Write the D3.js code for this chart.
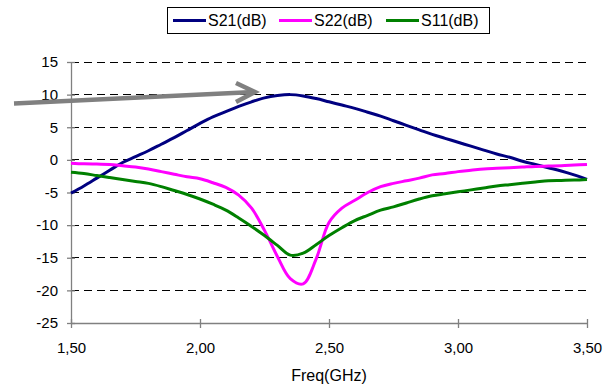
<!DOCTYPE html>
<html>
<head>
<meta charset="utf-8">
<script src="https://cdn.jsdelivr.net/npm/d3@7"></script>
<style>
  html, body { margin: 0; padding: 0; background: #fff; }
  svg { display: block; }
  text { font-family: "Liberation Sans", Arial, sans-serif; fill: #000; }
</style>
</head>
<body>
<svg id="chart" width="610" height="385"></svg>
<script>
// ---- data ----
const freq = [1.50,1.55,1.60,1.65,1.70,1.75,1.80,1.85,1.90,1.95,
              2.00,2.05,2.10,2.15,2.20,2.25,2.30,2.35,2.40,2.45,
              2.50,2.55,2.60,2.65,2.70,2.75,2.80,2.85,2.90,2.95,
              3.00,3.05,3.10,3.15,3.20,3.25,3.30,3.35,3.40,3.45,3.50];
const s21 = [-5.1,-4.0,-2.8,-1.6,-0.4,0.5,1.4,2.4,3.4,4.5,
             5.6,6.6,7.4,8.2,8.9,9.5,9.85,10.0,9.8,9.4,
             8.9,8.4,7.9,7.3,6.7,6.0,5.3,4.6,3.9,3.3,
             2.7,2.1,1.5,0.9,0.4,-0.2,-0.7,-1.2,-1.7,-2.3,-3.0];
const s22 = [-0.5,-0.6,-0.65,-0.7,-0.9,-1.1,-1.4,-1.8,-2.2,-2.6,
             -2.9,-3.5,-4.2,-5.4,-7.4,-10.8,-14.8,-18.2,-19.0,-15.2,
             -9.6,-7.4,-6.2,-5.0,-4.1,-3.6,-3.2,-2.8,-2.3,-2.1,
             -1.8,-1.6,-1.4,-1.3,-1.2,-1.1,-1.0,-0.95,-0.9,-0.8,-0.7];
const s11 = [-1.9,-2.1,-2.4,-2.7,-3.0,-3.3,-3.6,-4.1,-4.7,-5.3,
             -6.0,-6.8,-7.7,-8.9,-10.2,-11.6,-13.1,-14.6,-14.3,-13.0,
             -11.6,-10.4,-9.3,-8.5,-7.7,-7.2,-6.6,-6.0,-5.5,-5.2,
             -4.9,-4.6,-4.3,-4.0,-3.8,-3.6,-3.4,-3.2,-3.15,-3.1,-3.0];
const seriesNames = ["S21(dB)", "S22(dB)", "S11(dB)"];
const seriesColors = ["#000080", "#FF00FF", "#008000"];
const xTicks = [1.5, 2.0, 2.5, 3.0, 3.5];
const yTicks = [15, 10, 5, 0, -5, -10, -15, -20, -25];
const xTitle = "Freq(GHz)";

// ---- chart ----
const svg = d3.select("#chart");
const x = d3.scaleLinear().domain([1.5, 3.5]).range([71, 587]);
const y = d3.scaleLinear().domain([-25, 15]).range([323, 62]);

// grid
svg.append("g").selectAll("line")
  .data(yTicks.filter(v => v !== -25))
  .join("line")
  .attr("x1", x(1.5)).attr("x2", x(3.5))
  .attr("y1", d => y(d)).attr("y2", d => y(d))
  .attr("stroke", "#000").attr("stroke-width", 1)
  .attr("stroke-dasharray", "8,5")
  .attr("shape-rendering", "crispEdges");

// y axis
const yAxis = svg.append("g").attr("transform", `translate(${x(1.5)},0)`)
  .call(d3.axisLeft(y).tickValues(yTicks).tickSize(0).tickPadding(13).tickFormat(d => String(d)));
yAxis.select(".domain").attr("stroke", "#808080").attr("stroke-width", 1.3);
yAxis.selectAll(".tick line").attr("x1", -4).attr("x2", 4).attr("stroke", "#808080").attr("stroke-width", 1.3);
yAxis.selectAll("text").style("font-size", "15px").style("font-family", "'Liberation Sans', Arial, sans-serif").attr("fill", "#000");

// x axis
const fmt = d => d3.format(".2f")(d).replace(".", ",");
const xAxis = svg.append("g").attr("transform", `translate(0,${y(-25)})`)
  .call(d3.axisBottom(x).tickValues(xTicks).tickSize(0).tickPadding(19).tickFormat(fmt));
xAxis.select(".domain").attr("stroke", "#808080").attr("stroke-width", 1.3);
xAxis.selectAll(".tick line").attr("y1", -4).attr("y2", 5).attr("stroke", "#808080").attr("stroke-width", 1.3);
xAxis.selectAll("text").style("font-size", "15px").style("font-family", "'Liberation Sans', Arial, sans-serif").attr("fill", "#000");

// axis title
svg.append("text").attr("x", (x(1.5) + x(3.5)) / 2).attr("y", 381)
  .attr("text-anchor", "middle").style("font-size", "16px").text(xTitle);

// series
const allSeries = [s21, s22, s11];
const line = d3.line().x((d, i) => x(freq[i])).y(d => y(d)).curve(d3.curveCatmullRom.alpha(0.5));
allSeries.forEach((vals, k) => {
  svg.append("path").datum(vals)
    .attr("d", line)
    .attr("fill", "none")
    .attr("stroke", seriesColors[k])
    .attr("stroke-width", 3)
    .attr("stroke-linejoin", "round");
});

// annotation arrow
const arrow = svg.append("g").attr("stroke", "#808080").attr("stroke-width", 4.5).attr("fill", "none")
  .attr("stroke-linecap", "butt");
arrow.append("line").attr("x1", 14).attr("y1", 103.5).attr("x2", 254).attr("y2", 92);
arrow.append("polyline").attr("points", "236,83 255,92 236,102").attr("stroke-linejoin", "miter");

// legend
const lg = svg.append("g");
lg.append("rect").attr("x", 167.5).attr("y", 7.5).attr("width", 322).attr("height", 26)
  .attr("fill", "#fff").attr("stroke", "#000").attr("stroke-width", 1);
const legendX = [173, 279, 386];
seriesNames.forEach((name, k) => {
  lg.append("line").attr("x1", legendX[k]).attr("x2", legendX[k] + 33)
    .attr("y1", 20.5).attr("y2", 20.5)
    .attr("stroke", seriesColors[k]).attr("stroke-width", 3);
  lg.append("text").attr("x", legendX[k] + 35).attr("y", 26)
    .style("font-size", "16px").text(name);
});
</script>
</body>
</html>
